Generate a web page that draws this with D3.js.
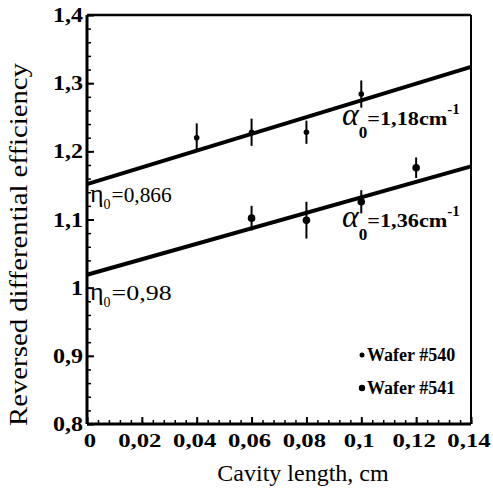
<!DOCTYPE html>
<html>
<head>
<meta charset="utf-8">
<script src="https://cdn.jsdelivr.net/npm/d3@7"></script>
<style>
  body { margin: 0; background: #fff; }
  svg { display: block; }
  text { font-family: "Liberation Serif", "Times New Roman", serif; fill: #000; }
</style>
</head>
<body>
<svg id="chart"></svg>
<script>
// wafer #540 (upper series)
const lenA = [0.04, 0.06, 0.08, 0.1];
const effA = [1.220, 1.228, 1.228, 1.284];
const errA = [0.021, 0.020, 0.017, 0.020];
// wafer #541 (lower series)
const lenB = [0.06, 0.08, 0.1, 0.12];
const effB = [1.102, 1.099, 1.126, 1.176];
const errB = [0.018, 0.027, 0.017, 0.015];
// fitted lines, value at 0 and at 0.14 cm
const fitA = [1.152, 1.324];
const fitB = [1.019, 1.178];
const fitX = [0, 0.14];

const xTicks = [0, 0.02, 0.04, 0.06, 0.08, 0.1, 0.12, 0.14];
const xTickLabels = ["0", "0,02", "0,04", "0,06", "0,08", "0,1", "0,12", "0,14"];
const yTicks = [0.8, 0.9, 1.0, 1.1, 1.2, 1.3, 1.4];
const yTickLabels = ["0,8", "0,9", "1", "1,1", "1,2", "1,3", "1,4"];

const W = 493, H = 494;
const margin = { top: 15, right: 22, bottom: 70, left: 87 };
const width = W - margin.left - margin.right;
const height = H - margin.top - margin.bottom;

const svg = d3.select("#chart").attr("width", W).attr("height", H);
const g = svg.append("g").attr("transform", `translate(${margin.left},${margin.top})`);

const x = d3.scaleLinear().domain([0, 0.14]).range([0, width]);
const y = d3.scaleLinear().domain([0.8, 1.4]).range([height, 0]);

// the scanned lettering is wider than the font, stretch it a bit
function widen(sel, f) {
    sel.each(function() {
        const w = this.getComputedTextLength();
        d3.select(this).attr("textLength", w * f).attr("lengthAdjust", "spacingAndGlyphs");
    });
}

// minor ticks (inside)
g.append("g")
    .attr("transform", `translate(0,${height})`)
    .call(d3.axisTop(x).tickValues(d3.range(0, 0.1401, 0.004)).tickSize(4).tickFormat(""))
    .call(a => a.select(".domain").remove())
    .selectAll("line").attr("stroke-width", 1.5);
g.append("g")
    .call(d3.axisRight(y).tickValues(d3.range(0.8, 1.4001, 0.02)).tickSize(4).tickFormat(""))
    .call(a => a.select(".domain").remove())
    .selectAll("line").attr("stroke-width", 1.5);

// major ticks + labels
const xAxis = g.append("g")
    .attr("transform", `translate(0,${height})`)
    .call(d3.axisTop(x).tickValues(xTicks).tickSize(7).tickFormat(""));
xAxis.select(".domain").remove();
xAxis.selectAll("line").attr("stroke-width", 2);
g.append("g").selectAll("text")
    .data(xTicks)
    .join("text")
    .attr("x", (d, i) => x(d) + (i === 0 ? 3 : -2))
    .attr("y", height + 23)
    .attr("text-anchor", "middle")
    .attr("font-size", 19)
    .attr("font-weight", "bold")
    .text((d, i) => xTickLabels[i])
    .call(widen, 1.3);

const yAxis = g.append("g")
    .call(d3.axisRight(y).tickValues(yTicks).tickSize(7).tickFormat(""));
yAxis.select(".domain").remove();
yAxis.selectAll("line").attr("stroke-width", 2);
g.append("g").selectAll("text")
    .data(yTicks)
    .join("text")
    .attr("x", -4)
    .attr("y", d => y(d) + 7)
    .attr("text-anchor", "end")
    .attr("font-size", 20)
    .attr("font-weight", "bold")
    .text((d, i) => yTickLabels[i])
    .call(widen, 1.2);

// frame
g.append("line").attr("x1", 0).attr("x2", width).attr("y1", 0).attr("y2", 0)
    .attr("stroke", "#000").attr("stroke-width", 2.5);
g.append("line").attr("x1", width).attr("x2", width).attr("y1", 0).attr("y2", height)
    .attr("stroke", "#000").attr("stroke-width", 2);
g.append("line").attr("x1", 0).attr("x2", 0).attr("y1", 0).attr("y2", height)
    .attr("stroke", "#000").attr("stroke-width", 3);
g.append("line").attr("x1", 0).attr("x2", width).attr("y1", height).attr("y2", height)
    .attr("stroke", "#000").attr("stroke-width", 3);

// fitted lines
const line = d3.line().x(d => x(d[0])).y(d => y(d[1]));
[fitA, fitB].forEach(f => {
    g.append("path")
        .attr("d", line(fitX.map((v, i) => [v, f[i]])))
        .attr("fill", "none")
        .attr("stroke", "#000")
        .attr("stroke-width", 4);
});

// points with error bars
function drawSeries(lens, effs, errs, r) {
    const s = g.append("g");
    lens.forEach((l, i) => {
        s.append("line")
            .attr("x1", x(l)).attr("x2", x(l))
            .attr("y1", y(effs[i] + errs[i])).attr("y2", y(effs[i] - errs[i]))
            .attr("stroke", "#000").attr("stroke-width", 2);
        s.append("circle")
            .attr("cx", x(l)).attr("cy", y(effs[i]))
            .attr("r", r).attr("fill", "#000");
    });
}
drawSeries(lenA, effA, errA, 2.8);
drawSeries(lenB, effB, errB, 3.8);

// annotations
function eta(px, py, val) {
    const t = g.append("text").attr("x", px).attr("y", py).attr("font-size", 20);
    t.append("tspan").attr("font-size", 26).text("η");
    t.append("tspan").attr("dy", 7).attr("font-size", 14).text("0");
    t.append("tspan").attr("dx", 1).attr("dy", -7).attr("textLength", 60).attr("lengthAdjust", "spacingAndGlyphs").text("=" + val);
}
eta(3, 187, "0,866");
eta(3, 285, "0,98");

function alpha(px, py, val) {
    const t = g.append("text").attr("x", px).attr("y", py).attr("font-size", 19).attr("font-weight", "bold");
    t.append("tspan").attr("font-size", 32).attr("font-weight", "normal").attr("font-style", "italic").text("α");
    t.append("tspan").attr("dy", 13).attr("font-size", 17).text("0");
    t.append("tspan").attr("dy", -13).attr("textLength", 80).attr("lengthAdjust", "spacingAndGlyphs").text("=" + val + "cm");
    t.append("tspan").attr("dy", -11).attr("font-size", 15).text("-1");
}
alpha(255, 110, "1,18");
alpha(255, 212, "1,36");

// legend
const legend = [["Wafer #540", 2.5], ["Wafer #541", 3.2]];
legend.forEach((d, i) => {
    const ly = 341 + i * 33;
    g.append("circle").attr("cx", 275).attr("cy", ly - 1).attr("r", d[1]).attr("fill", "#000");
    g.append("text").attr("x", 280).attr("y", ly + 5)
        .attr("font-size", 18).attr("font-weight", "bold").text(d[0]);
});

// axis titles
svg.append("text")
    .attr("transform", `translate(27,${margin.top + height / 2 + 25}) rotate(-90)`)
    .attr("text-anchor", "middle")
    .attr("font-size", 25)
    .text("Reversed differential efficiency")
    .call(widen, 1.15);
svg.append("text")
    .attr("x", margin.left + width / 2 + 24)
    .attr("y", 481)
    .attr("text-anchor", "middle")
    .attr("font-size", 24)
    .text("Cavity length, cm");
</script>
</body>
</html>
